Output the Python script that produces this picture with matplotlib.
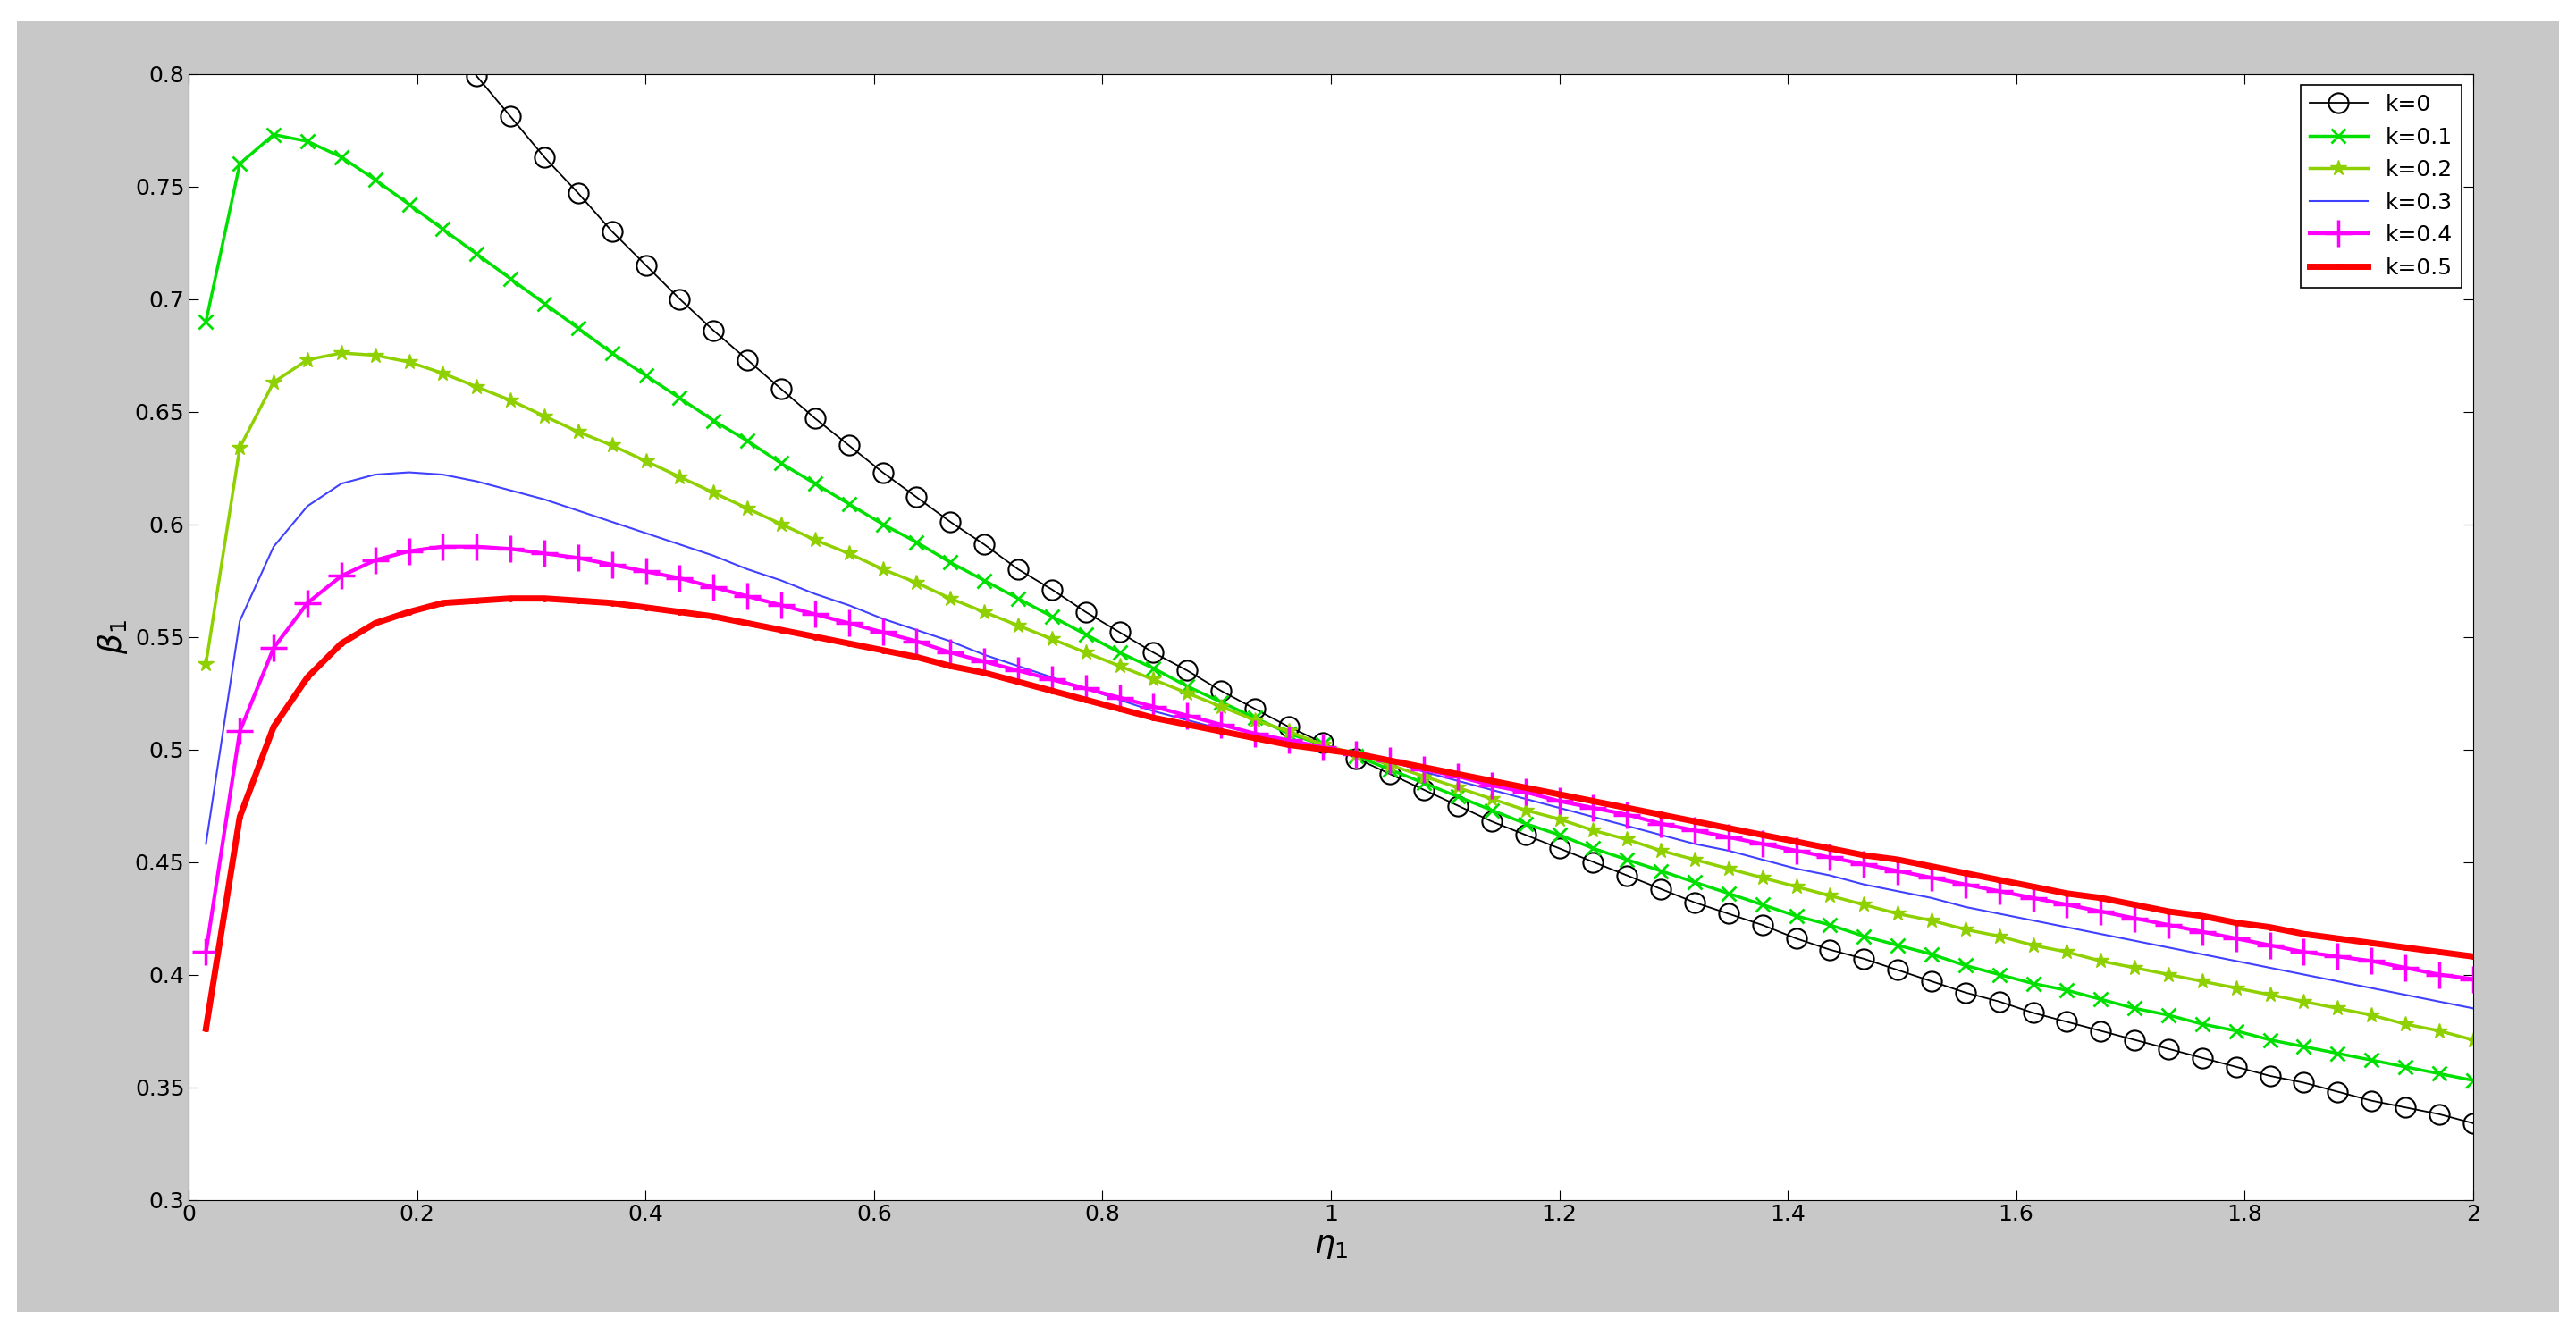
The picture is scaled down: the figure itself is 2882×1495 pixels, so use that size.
import numpy as np
import matplotlib
matplotlib.use("Agg")
import matplotlib.pyplot as plt
from matplotlib.patches import Rectangle

# eta_1 sample positions (68 points, 0.015 .. 2.0)
eta = np.linspace(0.015, 2.0, 68)

beta_k0 = [0.985, 0.958, 0.931, 0.907, 0.883, 0.861, 0.839, 0.819, 0.799, 0.781,
           0.763, 0.747, 0.730, 0.715, 0.700, 0.686, 0.673, 0.660, 0.647, 0.635,
           0.623, 0.612, 0.601, 0.591, 0.580, 0.571, 0.561, 0.552, 0.543, 0.535,
           0.526, 0.518, 0.510, 0.503, 0.496, 0.489, 0.482, 0.475, 0.468, 0.462,
           0.456, 0.450, 0.444, 0.438, 0.432, 0.427, 0.422, 0.416, 0.411, 0.407,
           0.402, 0.397, 0.392, 0.388, 0.383, 0.379, 0.375, 0.371, 0.367, 0.363,
           0.359, 0.355, 0.352, 0.348, 0.344, 0.341, 0.338, 0.334]
beta_k01 = [0.690, 0.760, 0.773, 0.770, 0.763, 0.753, 0.742, 0.731, 0.720, 0.709,
            0.698, 0.687, 0.676, 0.666, 0.656, 0.646, 0.637, 0.627, 0.618, 0.609,
            0.600, 0.592, 0.583, 0.575, 0.567, 0.559, 0.551, 0.543, 0.536, 0.528,
            0.521, 0.514, 0.507, 0.502,
            0.497, 0.491, 0.485, 0.479, 0.473, 0.467, 0.462, 0.456, 0.451, 0.446,
            0.441, 0.436, 0.431, 0.426, 0.422, 0.417, 0.413, 0.409, 0.404, 0.400,
            0.396, 0.393, 0.389, 0.385, 0.382, 0.378, 0.375, 0.371, 0.368, 0.365,
            0.362, 0.359, 0.356, 0.353]
beta_k02 = [0.538, 0.634, 0.663, 0.673, 0.676, 0.675, 0.672, 0.667, 0.661, 0.655,
            0.648, 0.641, 0.635, 0.628, 0.621, 0.614, 0.607, 0.600, 0.593, 0.587,
            0.580, 0.574, 0.567, 0.561, 0.555, 0.549, 0.543, 0.537, 0.531, 0.525,
            0.519, 0.513, 0.508, 0.502,
            0.498, 0.493, 0.488, 0.483, 0.478, 0.473, 0.469, 0.464, 0.460, 0.455,
            0.451, 0.447, 0.443, 0.439, 0.435, 0.431, 0.427, 0.424, 0.420, 0.417,
            0.413, 0.410, 0.406, 0.403, 0.400, 0.397, 0.394, 0.391, 0.388, 0.385,
            0.382, 0.378, 0.375, 0.371]
beta_k03 = [0.458, 0.557, 0.590, 0.608, 0.618, 0.622, 0.623, 0.622, 0.619, 0.615,
            0.611, 0.606, 0.601, 0.596, 0.591, 0.586, 0.580, 0.575, 0.569, 0.564,
            0.558, 0.553, 0.548, 0.542, 0.537, 0.532, 0.527, 0.522, 0.517, 0.513,
            0.509, 0.505, 0.502, 0.500,
            0.499, 0.495, 0.490, 0.486, 0.482, 0.478, 0.474, 0.470, 0.466, 0.462,
            0.458, 0.455, 0.451, 0.447, 0.444, 0.440, 0.437, 0.434, 0.430, 0.427,
            0.424, 0.421, 0.418, 0.415, 0.412, 0.409, 0.406, 0.403, 0.400, 0.397,
            0.394, 0.391, 0.388, 0.385]
beta_k04 = [0.410, 0.508, 0.545, 0.565, 0.577, 0.584, 0.588, 0.590, 0.590, 0.589,
            0.587, 0.585, 0.582, 0.579, 0.576, 0.572, 0.568, 0.564, 0.560, 0.556,
            0.552, 0.548, 0.543, 0.539, 0.535, 0.531, 0.527, 0.523, 0.519, 0.515,
            0.511, 0.507, 0.504, 0.501,
            0.498, 0.495, 0.491, 0.488, 0.484, 0.481, 0.477, 0.474, 0.471, 0.467,
            0.464, 0.461, 0.458, 0.455, 0.452, 0.449, 0.446, 0.443, 0.440, 0.437,
            0.434, 0.431, 0.428, 0.425, 0.422, 0.419, 0.416, 0.413, 0.410, 0.408,
            0.406, 0.403, 0.400, 0.398]
beta_k05 = [0.376, 0.470, 0.510, 0.532, 0.547, 0.556, 0.561, 0.565, 0.566, 0.567,
            0.567, 0.566, 0.565, 0.563, 0.561, 0.559, 0.556, 0.553, 0.550, 0.547,
            0.544, 0.541, 0.537, 0.534, 0.530, 0.526, 0.522, 0.518, 0.514, 0.511,
            0.508, 0.505, 0.502, 0.500,
            0.498, 0.495, 0.492, 0.489, 0.486, 0.483, 0.480, 0.477, 0.474, 0.471,
            0.468, 0.465, 0.462, 0.459, 0.456, 0.453, 0.451, 0.448, 0.445, 0.442,
            0.439, 0.436, 0.434, 0.431, 0.428, 0.426, 0.423, 0.421, 0.418, 0.416,
            0.414, 0.412, 0.410, 0.408]

fig = plt.figure(figsize=(28.82, 14.95), dpi=100, facecolor="white")
fig.patches.append(Rectangle((0.0065, 0.018), 0.987, 0.966, transform=fig.transFigure,
                             facecolor="#c8c8c8", edgecolor="none", zorder=-1))
ax = fig.add_axes([0.0733, 0.102, 0.8867, 0.8428])

ax.plot(eta, beta_k0, color="black", lw=1.3, marker="o", ms=16, mfc="none",
        mew=1.5, label="k=0")
ax.plot(eta, beta_k01, color="#00e000", lw=2.5, marker="x", ms=11, mew=2,
        label="k=0.1")
ax.plot(eta, beta_k02, color="#8fd000", lw=2.5, marker="*", ms=13,
        label="k=0.2")
ax.plot(eta, beta_k03, color="#4040ff", lw=1.5, label="k=0.3")
ax.plot(eta, beta_k04, color="#ff00ff", lw=3, marker="+", ms=22, mew=2.5,
        label="k=0.4")
ax.plot(eta, beta_k05, color="#ff0000", lw=5, marker=".", ms=8,
        label="k=0.5")

ax.set_xlim(0, 2)
ax.set_ylim(0.3, 0.8)
ax.set_xticks(np.arange(0, 2.01, 0.2))
ax.set_xticklabels(["0", "0.2", "0.4", "0.6", "0.8", "1", "1.2", "1.4", "1.6", "1.8", "2"])
ax.set_yticks(np.arange(0.3, 0.801, 0.05))
ax.set_yticklabels(["0.3", "0.35", "0.4", "0.45", "0.5", "0.55", "0.6", "0.65",
                    "0.7", "0.75", "0.8"])
ax.tick_params(labelsize=18, direction="in", length=8, top=True, right=True)
ax.set_xlabel(r"$\eta_1$", fontsize=26)
ax.set_ylabel(r"$\beta_1$", fontsize=26)

leg = ax.legend(loc="upper right", fontsize=18, fancybox=False, framealpha=1,
                edgecolor="black", handlelength=2.6, borderaxespad=0.5)
leg.get_frame().set_linewidth(1.2)

fig.savefig("out.png", dpi=100, facecolor=fig.get_facecolor())
